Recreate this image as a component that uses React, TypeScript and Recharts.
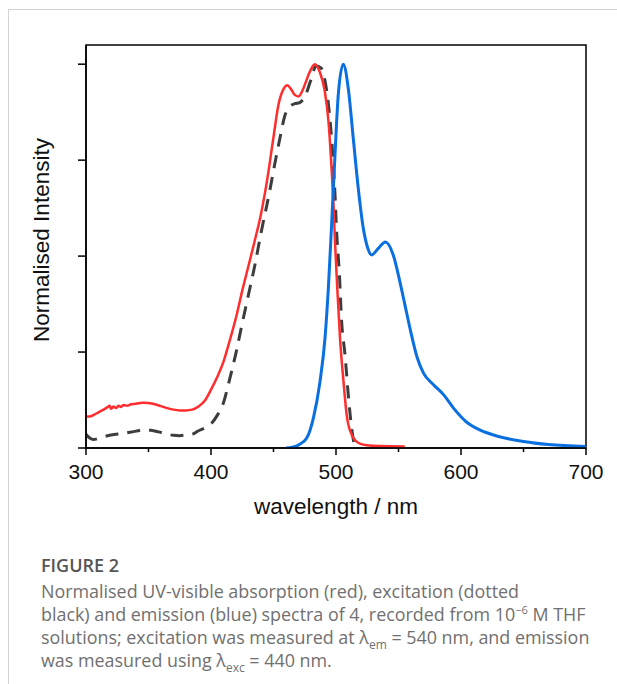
import { LineChart, Line, XAxis, YAxis, ReferenceArea } from 'recharts';

// absorption (red)
const absWl = [300, 303, 306, 310, 314, 317, 319, 320, 322, 324, 326, 328, 330, 333, 336, 340, 345, 350, 355, 360, 365, 370, 375, 380, 385, 390, 395, 400, 405, 410, 415, 420, 425, 430, 435, 440, 445, 450, 454, 458, 461, 464, 467, 470, 473, 476, 479, 483, 487, 491, 494, 496.6, 498, 499.2, 501, 503.2, 506, 508.5, 512.5, 518, 524.5, 535, 555];
const absVal = [0.082, 0.082, 0.086, 0.093, 0.1, 0.106, 0.11, 0.102, 0.108, 0.104, 0.11, 0.107, 0.112, 0.11, 0.114, 0.115, 0.118, 0.117, 0.114, 0.109, 0.104, 0.1, 0.098, 0.098, 0.1, 0.108, 0.123, 0.152, 0.185, 0.225, 0.28, 0.34, 0.41, 0.475, 0.54, 0.61, 0.7, 0.81, 0.895, 0.935, 0.945, 0.935, 0.92, 0.916, 0.93, 0.955, 0.98, 1.0, 0.98, 0.93, 0.85, 0.72, 0.634, 0.538, 0.417, 0.286, 0.173, 0.087, 0.035, 0.013, 0.007, 0.005, 0.004];

// excitation (dashed black)
const excWl = [300, 303, 306, 310, 315, 320, 330, 340, 346, 352, 358, 365, 370, 375, 380, 385, 390, 395, 400, 405, 410, 415, 420, 425, 430, 435, 440, 447, 451, 455, 459, 463, 467, 471, 476, 480, 484, 488, 491, 494, 496.6, 499.2, 500.5, 502.6, 504.5, 507.2, 509.8, 512.5, 514.6, 516];
const excVal = [0.036, 0.026, 0.022, 0.025, 0.03, 0.034, 0.038, 0.044, 0.047, 0.046, 0.042, 0.036, 0.033, 0.032, 0.034, 0.036, 0.045, 0.052, 0.063, 0.085, 0.118, 0.18, 0.248, 0.325, 0.4, 0.475, 0.56, 0.67, 0.74, 0.805, 0.865, 0.89, 0.897, 0.9, 0.922, 0.96, 0.995, 0.99, 0.96, 0.894, 0.8, 0.66, 0.564, 0.46, 0.33, 0.243, 0.139, 0.052, 0.01, 0];

// emission (blue)
const emWl = [460, 465, 471, 476.6, 481.9, 487.2, 491.2, 493.9, 496.6, 499.2, 501.8, 505.8, 509.8, 513.8, 517.8, 521.8, 525, 528.5, 533.8, 539.5, 545.8, 551, 555, 560, 565, 570, 578, 586, 594, 604, 615, 630, 650, 670, 700];
const emVal = [0, 0.002, 0.01, 0.026, 0.078, 0.173, 0.286, 0.417, 0.59, 0.764, 0.92, 1.0, 0.9375, 0.807, 0.677, 0.573, 0.525, 0.503, 0.52, 0.537, 0.503, 0.435, 0.375, 0.3, 0.235, 0.195, 0.165, 0.139, 0.104, 0.069, 0.047, 0.03, 0.017, 0.009, 0.004];

const xTicks = [300, 350, 400, 450, 500, 550, 600, 650, 700];
const yTicks = [0, 0.25, 0.5, 0.75, 1.0];

const toPoints = (wl: number[], v: number[]) => wl.map((w, i) => ({ wl: w, v: v[i] }));

const absData = toPoints(absWl, absVal);
const excData = toPoints(excWl, excVal);
const emData = toPoints(emWl, emVal);

const AXIS_FONT = '"Liberation Sans", Arial, sans-serif';

// major ticks every 100 nm get a label and a longer mark
const WlTick = ({ x, y, payload }: any) => {
  const major = payload.value % 100 === 0;
  return (
    <g>
      <line x1={x} x2={x} y1={y} y2={y + (major ? 7 : 4)} stroke="#000" strokeWidth={1.5} />
      {major && (
        <text x={x} y={y + 16} dy="0.71em" textAnchor="middle" fill="#111" fontSize={21} fontFamily={AXIS_FONT}>
          {payload.value}
        </text>
      )}
    </g>
  );
};

export default function App() {
  return (
    <div style={{ position: 'absolute', left: 0, top: 0, width: 617, height: 684, background: '#fff', overflow: 'hidden' }}>
      <div style={{ position: 'absolute', left: 8, top: 9, right: 0, bottom: 0, borderTop: '1px solid #d4d4d4', borderLeft: '1px solid #d4d4d4' }} />
      <div style={{ position: 'absolute', left: 0, top: 0 }}>
        <LineChart width={617} height={500} margin={{ top: 45, right: 31, bottom: 22, left: 0 }}>
          <XAxis
            dataKey="wl"
            type="number"
            domain={[300, 700]}
            ticks={xTicks}
            allowDataOverflow
            tick={<WlTick />}
            axisLine={{ stroke: '#000', strokeWidth: 1.5 }}
            tickLine={false}
            tickSize={0}
            tickMargin={0}
            height={30}
          />
          <YAxis
            type="number"
            domain={[0, 1.05]}
            ticks={yTicks}
            allowDataOverflow
            tickFormatter={() => ''}
            axisLine={{ stroke: '#000', strokeWidth: 1.5 }}
            tickLine={{ stroke: '#000', strokeWidth: 1.5 }}
            tickSize={8}
            width={86}
          />
          <ReferenceArea x1={300} x2={700} y1={0} y2={1.05} fill="none" stroke="#000" strokeWidth={1.5} />
          <Line data={excData} dataKey="v" type="monotone" stroke="#3d3d3d" strokeWidth={3} strokeDasharray="13 9" dot={false} isAnimationActive={false} />
          <Line data={absData} dataKey="v" type="monotone" stroke="#ff2d2d" strokeWidth={2.5} dot={false} isAnimationActive={false} />
          <Line data={emData} dataKey="v" type="monotone" stroke="#0a6fe0" strokeWidth={3} dot={false} isAnimationActive={false} />
        </LineChart>
      </div>
      <div style={{ position: 'absolute', left: 42, top: 240, transform: 'translate(-50%, -50%) rotate(-90deg)', whiteSpace: 'nowrap', fontFamily: AXIS_FONT, fontSize: 22.5, color: '#111' }}>
        Normalised Intensity
      </div>
      <div style={{ position: 'absolute', left: 336, top: 507, transform: 'translate(-50%, -50%)', whiteSpace: 'nowrap', fontFamily: AXIS_FONT, fontSize: 22.5, color: '#111' }}>
        wavelength / nm
      </div>
      <div style={{ position: 'absolute', left: 41, top: 554, fontFamily: '"Open Sans", sans-serif', color: '#707070', fontSize: 17.9, lineHeight: '23px' }}>
        <div style={{ fontWeight: 600, color: '#555', fontSize: 18, marginBottom: 2.5 }}>FIGURE 2</div>
        <div>Normalised UV-visible absorption (red), excitation (dotted</div>
        <div>black) and emission (blue) spectra of 4, recorded from 10<sup style={{ fontSize: 11, lineHeight: 0 }}>−6</sup> M THF</div>
        <div>solutions; excitation was measured at λ<sub style={{ fontSize: 12, lineHeight: 0 }}>em</sub> = 540 nm, and emission</div>
        <div>was measured using λ<sub style={{ fontSize: 12, lineHeight: 0 }}>exc</sub> = 440 nm.</div>
      </div>
    </div>
  );
}
